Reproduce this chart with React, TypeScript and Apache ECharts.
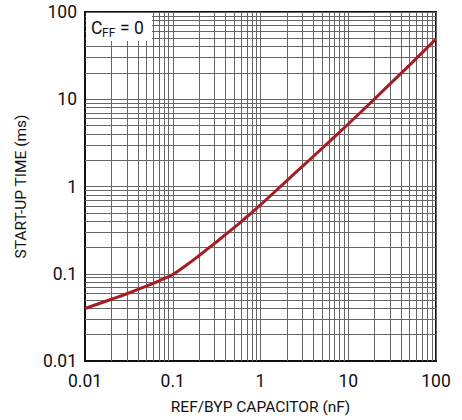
import React, { useEffect, useRef } from "react";
import * as echarts from "echarts";

const capacitanceNF = [0.01, 0.02, 0.03, 0.05, 0.07, 0.1, 0.15, 0.2, 0.3, 0.5, 0.7, 1, 2, 3, 5, 7, 10, 20, 30, 50, 100];
const startupMs = [0.040, 0.051, 0.059, 0.072, 0.083, 0.098, 0.130, 0.162, 0.223, 0.337, 0.45, 0.615, 1.17, 1.70, 2.72, 3.72, 5.2, 10.1, 15.0, 24.6, 49];
const xTickLabels = ["0.01", "0.1", "1", "10", "100"];
const yTickLabels = ["0.01", "0.1", "1", "10", "100"];
const decades = [0.01, 0.1, 1, 10];
const minorMultipliers = [2, 3, 4, 5, 6, 7, 8, 9];

const FONT = "Roboto, 'Liberation Sans', sans-serif";

function labelFor(list: string[], v: number) {
  let best = list[0];
  let bd = Infinity;
  for (const s of list) {
    const d = Math.abs(Math.log10(parseFloat(s)) - Math.log10(v));
    if (d < bd) { bd = d; best = s; }
  }
  return best;
}

export default function App() {
  const ref = useRef<HTMLDivElement>(null);
  useEffect(() => {
    if (!ref.current) return;
    const chart = echarts.init(ref.current, undefined, { renderer: "svg" });
    const minorVals: number[] = [];
    decades.forEach((d) => minorMultipliers.forEach((m) => minorVals.push(+(d * m).toPrecision(3))));
    const gridLineStyle = { color: "#666", width: 1, type: "solid" as const };
    const markData: any[] = [];
    minorVals.forEach((v) => {
      markData.push({ xAxis: v });
      markData.push({ yAxis: v });
    });
    chart.setOption({
      animation: false,
      backgroundColor: "#fff",
      grid: { left: 85, right: 26, top: 12, bottom: 58, show: true, borderColor: "#111", borderWidth: 2, backgroundColor: "transparent" },
      xAxis: {
        type: "log",
        logBase: 10,
        min: 0.01,
        max: 100,
        name: "REF/BYP CAPACITOR (nF)",
        nameLocation: "middle",
        nameGap: 38,
        nameTextStyle: { fontFamily: FONT, fontSize: 15.5, color: "#111" },
        axisLine: { show: true, lineStyle: { color: "#111", width: 2 } },
        axisTick: { show: false },
        axisLabel: { margin: 11, fontFamily: FONT, fontSize: 17.5, color: "#111", formatter: (v: number) => labelFor(xTickLabels, v) },
        splitLine: { show: true, lineStyle: gridLineStyle },
      },
      yAxis: {
        type: "log",
        logBase: 10,
        min: 0.01,
        max: 100,
        name: "START-UP TIME (ms)",
        nameLocation: "middle",
        nameGap: 56,
        nameTextStyle: { fontFamily: FONT, fontSize: 15.5, color: "#111" },
        axisLine: { show: true, lineStyle: { color: "#111", width: 2 } },
        axisTick: { show: false },
        axisLabel: { margin: 8, fontFamily: FONT, fontSize: 17.5, color: "#111", formatter: (v: number) => labelFor(yTickLabels, v) },
        splitLine: { show: true, lineStyle: gridLineStyle },
      },
      graphic: [
        { type: "rect", left: 86, top: 13, shape: { width: 66, height: 28 }, style: { fill: "#fff" }, z: 10 },
        { type: "text", left: 91, top: 19, style: { text: "C", fontFamily: FONT, fontSize: 17.5, fill: "#111" }, z: 11 },
        { type: "text", left: 102, top: 27, style: { text: "FF", fontFamily: FONT, fontSize: 12, fill: "#111" }, z: 11 },
        { type: "text", left: 120, top: 19, style: { text: "= 0", fontFamily: FONT, fontSize: 17.5, fill: "#111" }, z: 11 },
      ],
      series: [
        {
          type: "line",
          data: [],
          z: 1,
          silent: true,
          markLine: {
            silent: true,
            symbol: "none",
            label: { show: false },
            lineStyle: gridLineStyle,
            emphasis: { disabled: true },
            data: markData,
            animation: false,
          },
        },
        {
          type: "line",
          z: 5,
          smooth: 0.4,
          symbol: "none",
          data: capacitanceNF.map((x, i) => [x, startupMs[i]]),
          lineStyle: { color: "#a51d23", width: 3 },
        },
      ],
    });
    return () => chart.dispose();
  }, []);
  return <div ref={ref} style={{ position: "fixed", left: 0, top: 0, width: 462, height: 420 }} />;
}
